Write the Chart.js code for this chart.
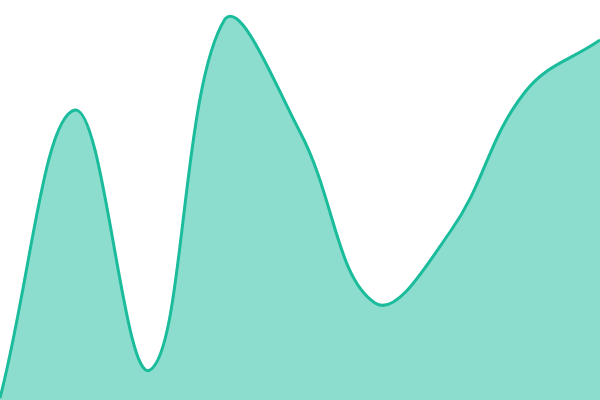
<!DOCTYPE html>
<html>
<head>
<meta charset="utf-8">
<script src="https://cdn.jsdelivr.net/npm/chart.js@4"></script>
<style>
  html, body { margin: 0; padding: 0; background: #fff; }
  #wrap { width: 600px; height: 400px; }
</style>
</head>
<body>
<div id="wrap"><canvas id="grafico"></canvas></div>
<script>
// dados
const categorias = ['1', '2', '3', '4', '5', '6', '7', '8', '9'];
const valores = [2, 290, 30, 381, 268, 97, 168, 308, 360];
const eixoMin = 0;
const eixoMax = 400;

const ctx = document.getElementById('grafico').getContext('2d');
new Chart(ctx, {
    type: 'line',
    data: {
        labels: categorias,
        datasets: [{
            data: valores,
            borderColor: '#1abc9c',
            backgroundColor: 'rgba(26, 188, 156, 0.5)',
            borderWidth: 3,
            fill: 'origin',
            tension: 0.4,
            pointRadius: 0
        }]
    },
    options: {
        responsive: true,
        maintainAspectRatio: false,
        animation: false,
        layout: { padding: 0 },
        plugins: { legend: { display: false }, tooltip: { enabled: false } },
        scales: {
            x: { display: false, offset: false },
            y: { display: false, min: eixoMin, max: eixoMax }
        }
    }
});
</script>
</body>
</html>
